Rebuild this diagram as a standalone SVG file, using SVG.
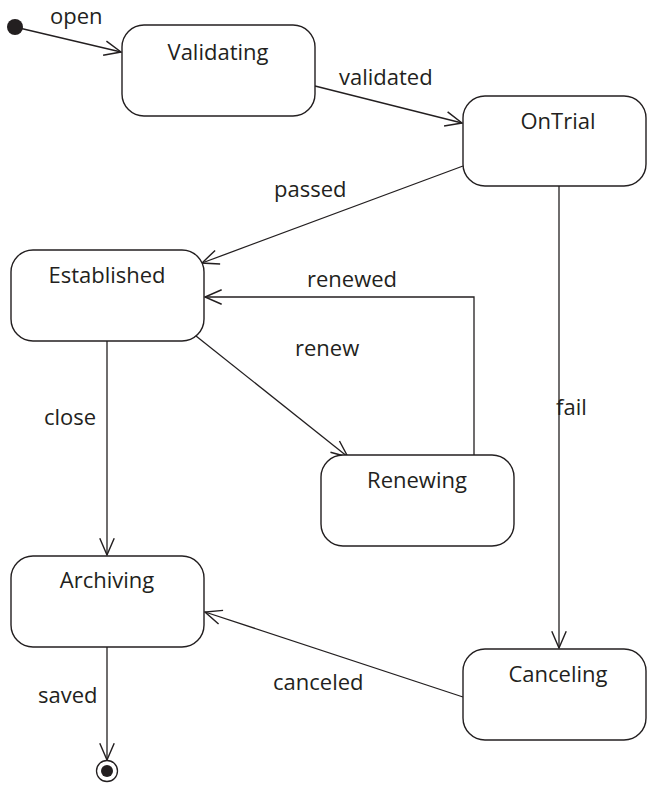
<svg xmlns="http://www.w3.org/2000/svg" width="647" height="786" viewBox="0 0 647 786">
  <defs>
    <marker id="open-arrow" markerUnits="userSpaceOnUse" markerWidth="20" markerHeight="20" viewBox="-16 -8 18 16" refX="0" refY="0" orient="auto" overflow="visible">
      <path d="M -15,-6.5 L 0,0 L -15,6.5" fill="none" stroke="#231f20" stroke-width="1.3"/>
    </marker>
  </defs>
  <style>
    .state { fill: #ffffff; stroke: #231f20; stroke-width: 1.4; }
    .name { font-family: "Open Sans", "Liberation Sans", sans-serif; font-size: 22px; fill: #231f20; text-anchor: middle; }
    .edge { fill: none; stroke: #231f20; stroke-width: 1.3; marker-end: url(#open-arrow); }
    .label { font-family: "Open Sans", "Liberation Sans", sans-serif; font-size: 22px; fill: #231f20; }
  </style>
  <rect width="647" height="786" fill="#ffffff"/>

  <!-- transitions -->
  <g id="connectors">
    <path class="edge" d="M 15,27 L 121,52"/>
    <text class="label" x="50" y="24">open</text>
    <path class="edge" d="M 315,86 L 462,123"/>
    <text class="label" x="339" y="85">validated</text>
    <path class="edge" d="M 463,166 L 202,263"/>
    <text class="label" x="274" y="197">passed</text>
    <path class="edge" d="M 474,455 L 474,297 L 205,297"/>
    <text class="label" x="307" y="287">renewed</text>
    <path class="edge" d="M 196,336 L 348,457"/>
    <text class="label" x="295" y="356">renew</text>
    <path class="edge" d="M 107,341 L 107,555"/>
    <text class="label" x="44" y="425">close</text>
    <path class="edge" d="M 559,186 L 559,648"/>
    <text class="label" x="556" y="415">fail</text>
    <path class="edge" d="M 463,697 L 205,612"/>
    <text class="label" x="273" y="690">canceled</text>
    <path class="edge" d="M 107,647 L 107,760"/>
    <text class="label" x="38" y="703">saved</text>
  </g>

  <!-- pseudo-states -->
  <g id="initial">
    <circle cx="15" cy="27" r="8" fill="#231f20"/>
  </g>
  <g id="final">
    <circle cx="107" cy="771" r="10.5" fill="#ffffff" stroke="#231f20" stroke-width="1.3"/>
    <circle cx="107" cy="771" r="6" fill="#231f20"/>
  </g>

  <!-- states -->
  <g id="validating">
    <rect class="state" x="122" y="25" width="193" height="91" rx="22"/>
    <text class="name" x="218" y="60">Validating</text>
  </g>
  <g id="ontrial">
    <rect class="state" x="463" y="96" width="183" height="90" rx="22"/>
    <text class="name" x="558" y="129">OnTrial</text>
  </g>
  <g id="established">
    <rect class="state" x="11" y="250" width="193" height="91" rx="22"/>
    <text class="name" x="107" y="283">Established</text>
  </g>
  <g id="renewing">
    <rect class="state" x="321" y="455" width="193" height="91" rx="22"/>
    <text class="name" x="417" y="488">Renewing</text>
  </g>
  <g id="archiving">
    <rect class="state" x="11" y="556" width="193" height="91" rx="22"/>
    <text class="name" x="107" y="588">Archiving</text>
  </g>
  <g id="canceling">
    <rect class="state" x="463" y="649" width="183" height="91" rx="22"/>
    <text class="name" x="558" y="682">Canceling</text>
  </g>
</svg>
